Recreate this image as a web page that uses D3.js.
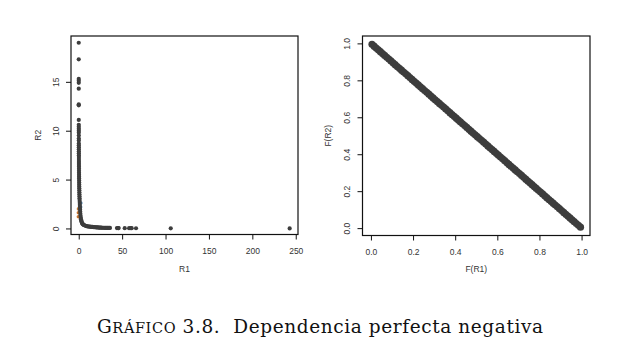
<!DOCTYPE html>
<html>
<head>
<meta charset="utf-8">
<script src="https://cdn.jsdelivr.net/npm/d3@7/dist/d3.min.js"></script>
<style>
  html, body { margin: 0; padding: 0; background: #fff; }
  svg { display: block; }
  .tick text { font-family: "Liberation Sans", Arial, sans-serif; }
</style>
</head>
<body>
<svg id="chart" width="638" height="355"></svg>
<script>
// ---- Data ----
// Left panel: R1 vs R2 (perfect negative dependence)
const r1 = [0.01, 0.02, 0.03, 0.03, 0.03, 0.04, 0.05, 0.05, 0.06, 0.07, 0.07, 0.08, 0.08, 0.09, 0.10, 0.10, 0.11, 0.12, 0.13, 0.14,
            0.15, 0.16, 0.17, 0.18, 0.20, 0.21, 0.22, 0.24, 0.26, 0.28, 0.30, 0.32, 0.34, 0.37, 0.40, 0.43, 0.46, 0.50, 0.54, 0.58,
            0.63, 0.68, 0.74, 0.80, 0.87, 0.95, 1.03, 1.12, 1.22, 1.33, 1.45, 1.60, 1.75, 1.90, 2.10, 2.35, 2.60, 2.90, 3.20, 3.60,
            4.0, 4.5, 5.0, 5.5, 6.0, 7.0, 8.0, 9.0, 10, 11, 12, 13, 14, 15, 16, 17, 18, 19, 20, 21,
            22, 23, 24, 25, 26, 27, 28, 29, 30, 31, 32, 33, 34, 35, 36, 44, 45.5, 46, 53, 58,
            60, 61, 66, 106, 243];
const r2 = [19.0, 17.3, 15.3, 15.1, 14.9, 14.3, 12.7, 12.6, 11.1, 10.6, 10.4, 10.2, 10.0, 9.8, 9.5, 9.2, 9.0, 8.7, 8.5, 8.3,
            8.1, 7.9, 7.7, 7.5, 7.3, 7.1, 6.9, 6.7, 6.5, 6.3, 6.1, 5.9, 5.7, 5.5, 5.3, 5.1, 4.9, 4.7, 4.5, 4.3,
            4.1, 3.9, 3.7, 3.5, 3.3, 3.1, 2.9, 2.7, 2.5, 2.3, 2.1, 1.9, 1.7, 1.5, 1.3, 1.1, 0.95, 0.80, 0.70, 0.60,
            0.50, 0.45, 0.42, 0.38, 0.35, 0.30, 0.27, 0.24, 0.22, 0.20, 0.19, 0.18, 0.17, 0.16, 0.15, 0.14, 0.13, 0.12, 0.11, 0.10,
            0.10, 0.09, 0.09, 0.08, 0.08, 0.07, 0.07, 0.07, 0.06, 0.06, 0.06, 0.05, 0.05, 0.05, 0.05, 0.04, 0.04, 0.04, 0.03, 0.03,
            0.03, 0.03, 0.02, 0.01, 0.005];
// faint coloured points mostly hidden under the dense column
const accentR1 = [-0.4, -0.4, -0.3, 2.2, 2.4];
const accentR2 = [1.2, 1.6, 2.0, 2.2, 2.6];
const accentColor = ["#c8742e", "#c8742e", "#c07a3a", "#4a7fae", "#4a7fae"];

// Right panel: F(R1) vs F(R2)
const fR1 = [0.005,0.015,0.025,0.035,0.045,0.055,0.065,0.075,0.085,0.095,0.105,0.115,0.125,0.135,0.145,0.155,0.165,0.175,0.185,0.195,
             0.205,0.215,0.225,0.235,0.245,0.255,0.265,0.275,0.285,0.295,0.305,0.315,0.325,0.335,0.345,0.355,0.365,0.375,0.385,0.395,
             0.405,0.415,0.425,0.435,0.445,0.455,0.465,0.475,0.485,0.495,0.505,0.515,0.525,0.535,0.545,0.555,0.565,0.575,0.585,0.595,
             0.605,0.615,0.625,0.635,0.645,0.655,0.665,0.675,0.685,0.695,0.705,0.715,0.725,0.735,0.745,0.755,0.765,0.775,0.785,0.795,
             0.805,0.815,0.825,0.835,0.845,0.855,0.865,0.875,0.885,0.895,0.905,0.915,0.925,0.935,0.945,0.955,0.965,0.975,0.985,0.995];
const fR2 = [0.995,0.985,0.975,0.965,0.955,0.945,0.935,0.925,0.915,0.905,0.895,0.885,0.875,0.865,0.855,0.845,0.835,0.825,0.815,0.805,
             0.795,0.785,0.775,0.765,0.755,0.745,0.735,0.725,0.715,0.705,0.695,0.685,0.675,0.665,0.655,0.645,0.635,0.625,0.615,0.605,
             0.595,0.585,0.575,0.565,0.555,0.545,0.535,0.525,0.515,0.505,0.495,0.485,0.475,0.465,0.455,0.445,0.435,0.425,0.415,0.405,
             0.395,0.385,0.375,0.365,0.355,0.345,0.335,0.325,0.315,0.305,0.295,0.285,0.275,0.265,0.255,0.245,0.235,0.225,0.215,0.205,
             0.195,0.185,0.175,0.165,0.155,0.145,0.135,0.125,0.115,0.105,0.095,0.085,0.075,0.065,0.055,0.045,0.035,0.025,0.015,0.005];

const leftXTicks = [0, 50, 100, 150, 200, 250];
const leftYTicks = [0, 5, 10, 15];
const unitTicks = [0.0, 0.2, 0.4, 0.6, 0.8, 1.0];
const titles = { leftX: "R1", leftY: "R2", rightX: "F(R1)", rightY: "F(R2)" };
const captionHead = "G", captionSmall = "RÁFICO", captionRest = " 3.8.  Dependencia perfecta negativa";

// ---- Drawing ----
const svg = d3.select("#chart");
const pointColor = "#3d3d3d";
const tickFont = 8.5;

function panel(cfg) {
  const g = svg.append("g");
  const { x, y } = cfg;
  const [x0, x1] = x.range(), [y0, y1] = y.range();
  const xa = g.append("g").attr("transform", `translate(0,${y0})`)
    .call(d3.axisBottom(x).tickValues(cfg.xTicks).tickSize(5).tickPadding(8).tickFormat(cfg.xFmt));
  const ya = g.append("g").attr("transform", `translate(${x0},0)`)
    .call(d3.axisLeft(y).tickValues(cfg.yTicks).tickSize(5).tickPadding(0).tickFormat(cfg.yFmt));
  [xa, ya].forEach(a => {
    a.select(".domain").remove();
    a.selectAll("line").attr("stroke", "#111").attr("stroke-width", 1);
    a.selectAll("text").attr("font-size", tickFont).attr("fill", "#333");
  });
  ya.selectAll(".tick text")
    .attr("text-anchor", "middle")
    .attr("transform", "translate(-15,0) rotate(-90)")
    .attr("x", 0).attr("dy", "0.35em");
  cfg.draw(g);
  g.append("rect").attr("x", x0).attr("y", y1).attr("width", x1 - x0).attr("height", y0 - y1)
    .attr("fill", "none").attr("stroke", "#111").attr("stroke-width", 1.2);
  g.append("text").attr("x", (x0 + x1) / 2).attr("y", 272)
    .attr("text-anchor", "middle").attr("font-family", "Liberation Sans, Arial, sans-serif")
    .attr("font-size", tickFont).attr("fill", "#333").text(cfg.xTitle);
  g.append("text").attr("transform", `translate(${cfg.yTitleX},${(y0 + y1) / 2}) rotate(-90)`)
    .attr("text-anchor", "middle").attr("font-family", "Liberation Sans, Arial, sans-serif")
    .attr("font-size", tickFont).attr("fill", "#333").text(cfg.yTitle);
}

const xL = d3.scaleLinear().domain([-8.9, 252.6]).range([71, 298]);
const yL = d3.scaleLinear().domain([-0.62, 19.69]).range([234.5, 36]);
panel({
  x: xL, y: yL, xTicks: leftXTicks, yTicks: leftYTicks,
  xFmt: d3.format("d"), yFmt: d3.format("d"),
  xTitle: titles.leftX, yTitle: titles.leftY, yTitleX: 41,
  draw: g => {
    g.selectAll("circle.acc").data(accentR1).join("circle").attr("class", "acc")
      .attr("cx", d => xL(d)).attr("cy", (d, i) => yL(accentR2[i])).attr("r", 1.8)
      .attr("fill", (d, i) => accentColor[i]);
    g.selectAll("circle.pt").data(r1).join("circle").attr("class", "pt")
      .attr("cx", d => xL(d)).attr("cy", (d, i) => yL(r2[i])).attr("r", 2.1)
      .attr("fill", pointColor);
  }
});

const xR = d3.scaleLinear().domain([-0.04, 1.04]).range([362.5, 590]);
const yR = d3.scaleLinear().domain([-0.04, 1.04]).range([235.5, 36]);
panel({
  x: xR, y: yR, xTicks: unitTicks, yTicks: unitTicks,
  xFmt: d3.format(".1f"), yFmt: d3.format(".1f"),
  xTitle: titles.rightX, yTitle: titles.rightY, yTitleX: 331,
  draw: g => {
    g.selectAll("circle.pt").data(fR1).join("circle").attr("class", "pt")
      .attr("cx", d => xR(d)).attr("cy", (d, i) => yR(fR2[i])).attr("r", 3.6)
      .attr("fill", pointColor);
  }
});

// caption
const cap = svg.append("text").attr("x", 97).attr("y", 333)
  .attr("xml:space", "preserve").style("white-space", "pre")
  .attr("font-family", "'DejaVu Serif', 'Liberation Serif', serif").attr("font-size", 18.5).attr("fill", "#111");
cap.append("tspan").text(captionHead);
cap.append("tspan").attr("font-size", 14.5).text(captionSmall);
cap.append("tspan").text(captionRest);
const w = cap.node().getComputedTextLength();
if (w > 0) cap.attr("textLength", 446).attr("lengthAdjust", "spacing");
</script>
</body>
</html>
